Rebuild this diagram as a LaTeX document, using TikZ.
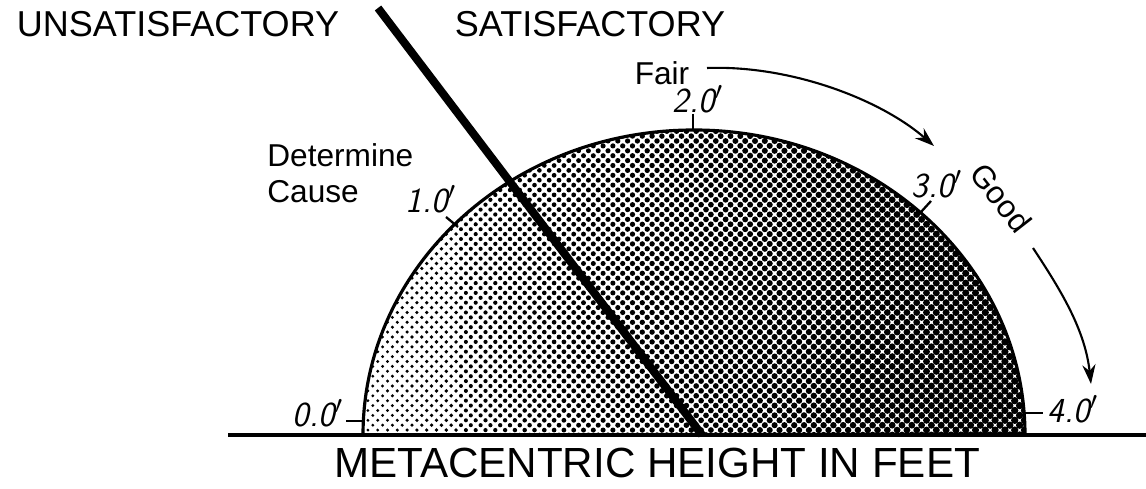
\documentclass[tikz,border=0pt]{standalone}
\usepackage{fontspec}
\setmainfont{Liberation Sans}
\usetikzlibrary{arrows.meta}
\begin{document}
\begin{tikzpicture}[x=0.02cm,y=0.02cm,
  head/.style={font=\fontsize{20.5}{24}\selectfont, inner sep=0pt},
  axislabel/.style={font=\fontsize{24}{28}\selectfont, inner sep=0pt},
  note/.style={font=\fontsize{18}{20.5}\selectfont, inner sep=0pt},
  tickl/.style={font=\sffamily\slshape\fontsize{20}{22}\selectfont, inner sep=0pt},
  tick/.style={line width=1.3pt},
  curvearrow/.style={line width=1.2pt, -{Stealth[length=11pt,width=7.5pt]}},
  outline/.style={line width=1.8pt},
  divider/.style={line width=4.6pt, line cap=butt}]
\useasboundingbox (0,0) rectangle (1146,489);

% half disk with halftone dots
\begin{scope}
  \clip (363,54) arc[start angle=180, end angle=0, x radius=331, y radius=305] -- cycle;
  \foreach \a in {0,...,135}{
    \pgfmathsetmacro{\px}{363+\a*4.9}
    \pgfmathsetmacro{\rr}{7*sqrt((0.15+0.73*(\px-363)/662)/3.14159)}
    \pgfmathtruncatemacro{\off}{mod(\a,2)}
    \foreach \b in {0,...,31}{
      \pgfmathsetmacro{\py}{54+(2*\b+\off)*4.9}
      \fill (\px,\py) circle[radius=\rr];
    }
  }
\end{scope}
\draw[outline] (363,54) arc[start angle=180, end angle=0, x radius=331, y radius=305];

% base line
\coordinate (baseL) at (228,54);
\coordinate (baseR) at (1146,54);
\draw[line width=1.8pt] (baseL) -- (baseR);

% dividing line
\coordinate (divTop) at (378,481);
\coordinate (divBot) at (702,54);
\draw[divider] (divTop) -- (divBot);

% ticks and labels
\coordinate (t0a) at (346,68); \coordinate (t0b) at (362,68);
\coordinate (t1a) at (446,272); \coordinate (t1b) at (458,262);
\coordinate (t2a) at (693,375); \coordinate (t2b) at (693,359);
\coordinate (t3a) at (921,277); \coordinate (t3b) at (931,288);
\coordinate (t4a) at (1025,76); \coordinate (t4b) at (1043,76);
\draw[tick] (t0a) -- (t0b);
\draw[tick] (t1a) -- (t1b);
\draw[tick] (t2a) -- (t2b);
\draw[tick] (t3a) -- (t3b);
\draw[tick] (t4a) -- (t4b);
\node[tickl] (l0) at (318,76) {0.0$'$};
\node[tickl] (l1) at (431,290) {1.0$'$};
\node[tickl] (l2) at (698,390) {2.0$'$};
\node[tickl] (l3) at (937,305) {3.0$'$};
\node[tickl] (l4) at (1073,80) {4.0$'$};

% headings
\node[head] (unsat) at (178,465) {UNSATISFACTORY};
\node[head] (sat) at (590,465) {SATISFACTORY};
\node[axislabel, anchor=base] (axis) at (657,11) {METACENTRIC HEIGHT IN FEET};

% notes
\node[note, anchor=west, align=left] (cause) at (267,316) {Determine\\Cause};
\node[note] (fair) at (662,416) {Fair};
\node[note, rotate=-52] (good) at (1001,291) {Good};

% arrows
\coordinate (fairS) at (707,421);
\coordinate (fairE) at (934,343);
\draw[curvearrow] (fairS) .. controls (790,424) and (880,390) .. (fairE);
\coordinate (goodS) at (1033,241);
\coordinate (goodE) at (1091,105);
\draw[curvearrow] (goodS) .. controls (1060,200) and (1085,160) .. (goodE);
\end{tikzpicture}
\end{document}
